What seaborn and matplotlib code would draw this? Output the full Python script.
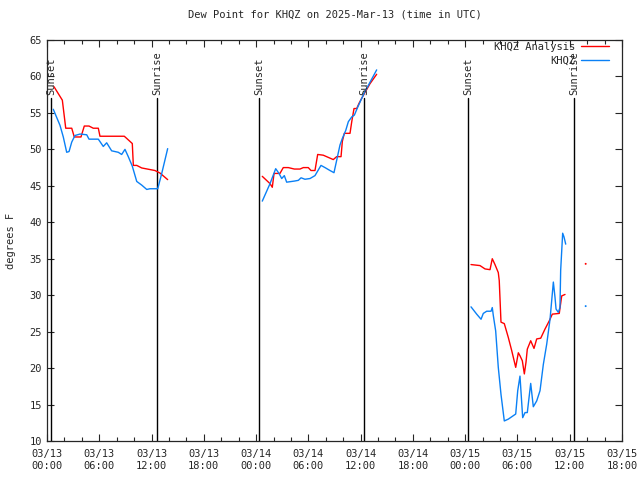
import numpy as np
import pandas as pd
import seaborn as sns
from matplotlib import pyplot as plt
from matplotlib.lines import Line2D

# hours after 03/13 00:00 UTC, dew point in F
# analysis (red)
hrs_a1 = [0.80, 1.76, 2.15, 2.84, 3.13, 3.90, 4.28, 4.82, 5.31, 5.89, 6.08, 8.87, 9.15, 9.79, 9.91, 10.30, 10.87, 12.39, 12.97, 13.85]
dew_a1 = [58.6, 56.75, 52.9, 52.9, 51.7, 51.7, 53.2, 53.2, 52.9, 52.9, 51.8, 51.8, 51.5, 50.8, 47.8, 47.8, 47.45, 47.1, 46.75, 45.85]
hrs_a2 = [24.71, 25.60, 25.86, 26.06, 26.74, 27.12, 27.70, 28.39, 29.04, 29.42, 29.99, 30.30, 30.76, 31.07, 31.71, 32.86, 33.25, 33.75, 33.90, 34.13, 34.78, 34.98, 35.24, 35.55, 35.81, 36.12, 37.07, 37.84]
dew_a2 = [46.3, 45.3, 44.8, 46.7, 46.7, 47.5, 47.5, 47.3, 47.3, 47.5, 47.5, 47.1, 47.1, 49.3, 49.2, 48.6, 49.0, 49.0, 51.1, 52.2, 52.2, 53.8, 55.6, 55.6, 56.3, 57.0, 59.0, 60.3]
hrs_a3 = [48.67, 49.70, 50.28, 50.85, 51.11, 51.42, 51.80, 51.91, 52.11, 52.49, 52.95, 53.34, 53.80, 54.10, 54.29, 54.56, 54.79, 54.98, 55.13, 55.52, 55.90, 56.21, 56.67, 57.16, 57.66, 58.00, 58.80, 59.08, 59.46]
dew_a3 = [34.2, 34.06, 33.6, 33.5, 35.0, 34.2, 33.1, 32.0, 26.3, 26.1, 24.2, 22.4, 20.1, 22.1, 21.7, 21.0, 19.2, 20.8, 22.6, 23.75, 22.7, 24.0, 24.1, 25.35, 26.5, 27.4, 27.5, 29.9, 30.1]

# observed (blue)
hrs_o1 = [0.72, 1.49, 1.87, 2.26, 2.53, 2.84, 3.21, 3.79, 4.56, 4.82, 5.89, 6.46, 6.85, 7.42, 8.18, 8.57, 8.95, 9.33, 9.79, 10.30, 10.87, 11.45, 11.82, 12.71, 13.17, 13.85]
dew_o1 = [55.5, 53.3, 51.7, 49.6, 49.7, 51.0, 51.9, 52.1, 52.0, 51.4, 51.4, 50.4, 50.9, 49.8, 49.6, 49.3, 50.0, 49.0, 47.7, 45.6, 45.1, 44.5, 44.6, 44.6, 46.7, 50.1]
hrs_o2 = [24.71, 25.60, 26.25, 26.63, 26.94, 27.24, 27.51, 28.39, 28.85, 29.16, 29.61, 30.19, 30.76, 31.45, 31.91, 32.48, 32.94, 33.25, 33.63, 33.90, 34.29, 34.59, 34.98, 35.28, 35.67, 36.05, 36.42, 37.84]
dew_o2 = [42.9, 45.3, 47.35, 46.7, 46.0, 46.4, 45.5, 45.65, 45.75, 46.1, 45.9, 46.0, 46.4, 47.8, 47.5, 47.1, 46.8, 48.5, 50.6, 51.5, 52.6, 53.8, 54.45, 54.7, 55.8, 56.8, 57.75, 60.9]
hrs_o3 = [48.67, 49.32, 49.82, 50.08, 50.47, 50.97, 51.11, 51.23, 51.50, 51.80, 52.11, 52.49, 52.95, 53.80, 54.03, 54.29, 54.60, 54.87, 55.13, 55.52, 55.82, 56.21, 56.59, 56.97, 57.36, 57.74, 58.12, 58.31, 58.43, 58.69, 58.88, 58.96, 59.19, 59.34, 59.54]
dew_o3 = [28.4, 27.4, 26.7, 27.5, 27.8, 27.8, 28.3, 27.2, 25.1, 20.1, 16.4, 12.75, 13.0, 13.7, 16.9, 18.9, 13.2, 13.9, 13.9, 17.9, 14.7, 15.5, 16.9, 20.5, 23.3, 26.7, 31.8, 29.7, 28.1, 27.65, 28.3, 33.4, 38.5, 38.0, 37.0]

# lone points at the right
dot_hrs = [61.83, 61.83]
dot_dew = [34.3, 28.5]

sun_hrs = [0.45, 12.6, 24.35, 36.4, 48.35, 60.5]
sun_txt = ['Sunset', 'Sunrise', 'Sunset', 'Sunrise', 'Sunset', 'Sunrise']

tick_hrs = list(range(0, 67, 6))
tick_labels = ['03/13\n00:00', '03/13\n06:00', '03/13\n12:00', '03/13\n18:00',
               '03/14\n00:00', '03/14\n06:00', '03/14\n12:00', '03/14\n18:00',
               '03/15\n00:00', '03/15\n06:00', '03/15\n12:00', '03/15\n18:00']

rows = []
for name, segs in [('KHQZ Analysis', [(hrs_a1, dew_a1), (hrs_a2, dew_a2), (hrs_a3, dew_a3)]),
                   ('KHQZ', [(hrs_o1, dew_o1), (hrs_o2, dew_o2), (hrs_o3, dew_o3)])]:
    for i, (h, d) in enumerate(segs):
        for a, b in zip(h, d):
            rows.append((name, i, a, b))
df = pd.DataFrame(rows, columns=['series', 'seg', 'hour', 'dew'])
dots = pd.DataFrame({'hour': dot_hrs, 'dew': dot_dew, 'series': ['KHQZ Analysis', 'KHQZ']})

sns.set_style('ticks')
plt.rcParams['font.family'] = ['DejaVu Sans Mono', 'DejaVu Sans']

pal = {'KHQZ Analysis': '#ff0000', 'KHQZ': '#0a80f5'}

fig = plt.figure(figsize=(6.4, 4.8), dpi=100)
ax = fig.add_axes([47/640, 1-441/480, 575/640, 401/480])

for s in sun_hrs:
    ax.plot([s, s], [10, 57.1], color='black', lw=1.0)
for s, t in zip(sun_hrs, sun_txt):
    ax.text(s, 57.4, t, rotation=90, ha='center', va='bottom', fontsize=7.5)

sns.lineplot(data=df, x='hour', y='dew', hue='series', units='seg', estimator=None,
             palette=pal, lw=1.0, ax=ax, legend=False, sort=False)
sns.scatterplot(data=dots, x='hour', y='dew', hue='series', palette=pal, s=2,
                linewidth=0, ax=ax, legend=False)

# legend like gnuplot: text then line sample
handles = [Line2D([], [], color=pal['KHQZ Analysis'], lw=1.0),
           Line2D([], [], color=pal['KHQZ'], lw=1.0)]
ax.legend(handles, ['KHQZ Analysis', 'KHQZ'], loc='upper right', frameon=False,
          markerfirst=False, fontsize=7.5, handlelength=2.7, handletextpad=0.55,
          labelspacing=0.35, borderaxespad=0.0, bbox_to_anchor=(0.984, 1.006))

ax.set_xlim(0, 66)
ax.set_ylim(10, 65)
ax.set_xticks(tick_hrs)
ax.set_xticklabels(tick_labels)
ax.set_xticks(np.arange(0, 67, 2), minor=True)
ax.set_yticks(np.arange(10, 66, 5))
ax.tick_params(axis='both', which='both', direction='in', top=True, right=True,
               labelsize=7.5, width=0.8)
ax.tick_params(axis='both', which='major', length=5)
ax.tick_params(axis='x', which='minor', length=3)
ax.tick_params(axis='x', pad=6)
for sp in ax.spines.values():
    sp.set_linewidth(0.9)
ax.set_xlabel('')
ax.set_ylabel('degrees F', fontsize=7.5, labelpad=10)
ax.set_title('Dew Point for KHQZ on 2025-Mar-13 (time in UTC)', fontsize=7.5, pad=16)

fig.savefig('out.png', dpi=100)
